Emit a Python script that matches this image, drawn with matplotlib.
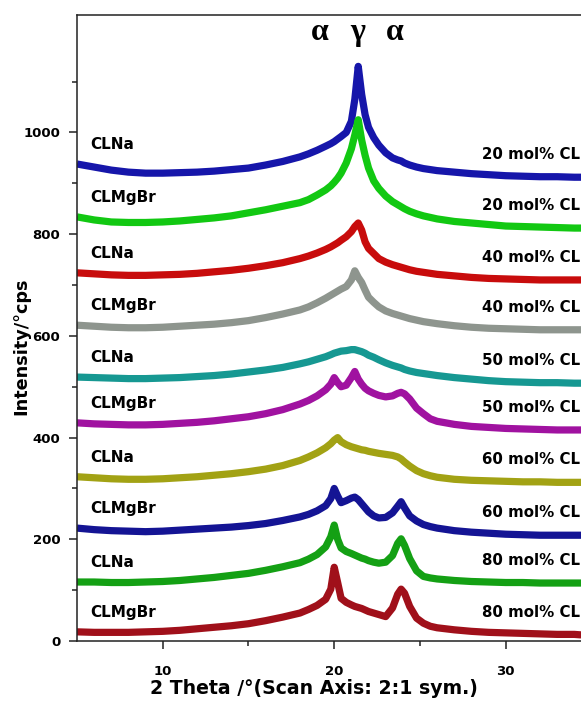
import matplotlib
matplotlib.use("Agg")
import matplotlib.pyplot as plt

# ---------------- data ----------------
two_theta = [5, 6, 7, 8, 9, 10, 11, 12, 13, 14, 15, 16, 17, 18,
             18.5, 19, 19.5, 19.8, 20.0, 20.2, 20.4, 20.7,
             21.0, 21.2, 21.4, 21.6, 21.8, 22.0, 22.3, 22.6,
             23.0, 23.4, 23.7, 23.9, 24.1, 24.4, 24.8, 25.2, 25.6,
             26, 27, 28, 29, 30, 31, 32, 33, 34, 34.4]

clna_20 = [938, 932, 926, 922, 920, 920, 921, 922, 924, 927, 930, 936, 943, 952,
           958, 965, 973, 978, 982, 987, 992, 1000,
           1022, 1065, 1130, 1075, 1035, 1010, 990, 975,
           960, 950, 946, 944, 940, 936, 932, 929, 927,
           925, 922, 919, 917, 915, 914, 913, 913, 912, 912]
clmgbr_20 = [834, 828, 824, 823, 823, 824, 826, 829, 832, 836, 842, 848, 855, 862,
             868, 877, 887, 895, 902, 910, 920, 940,
             968, 995, 1025, 985, 955, 930, 905, 890,
             875, 864, 858, 854, 850, 845, 840, 836, 833,
             830, 825, 822, 819, 816, 815, 814, 813, 812, 812]
clna_40 = [724, 722, 720, 719, 719, 720, 721, 723, 726, 729, 733, 738, 744, 752,
           757, 763, 770, 775, 779, 783, 788, 795,
           805, 815, 822, 808, 785, 772, 762, 752,
           745, 740, 737, 735, 733, 730, 727, 725, 723,
           721, 718, 715, 713, 712, 711, 710, 710, 710, 710]
clmgbr_40 = [621, 619, 617, 616, 616, 617, 619, 621, 623, 626, 630, 636, 643, 651,
             657, 665, 674, 680, 684, 688, 692, 697,
             710, 728, 715, 705, 690, 676, 666, 657,
             649, 644, 641, 639, 637, 634, 631, 628, 626,
             624, 620, 617, 615, 614, 613, 612, 612, 612, 612]
clna_50 = [519, 518, 517, 516, 516, 517, 518, 520, 522, 525, 529, 533, 538, 545,
           549, 554, 559, 563, 566, 568, 570, 571,
           573, 573, 571, 569, 566, 562, 558, 553,
           547, 542, 539, 537, 534, 531, 528, 526, 524,
           522, 518, 515, 512, 510, 509, 508, 508, 507, 507]
clmgbr_50 = [429, 427, 426, 425, 425, 426, 428, 430, 433, 437, 441, 447, 455, 466,
             473, 482, 494, 505, 518, 508, 500, 503,
             518, 530, 515, 505, 497, 492, 487, 483,
             480, 482, 487, 489, 486, 476, 458, 447, 437,
             432, 426, 422, 420, 418, 417, 416, 415, 415, 415]
clna_60 = [323, 321, 319, 318, 318, 319, 321, 323, 326, 329, 333, 338, 345, 355,
           362, 370, 380, 388, 395, 400, 392, 386,
           382, 380, 378, 376, 375, 373, 371, 369,
           367, 365, 362, 358, 352, 344, 335, 329, 325,
           322, 318, 316, 315, 314, 313, 313, 312, 312, 312]
clmgbr_60 = [222, 219, 217, 216, 215, 216, 218, 220, 222, 224, 227, 231, 237, 244,
             249, 256, 266, 280, 300, 285, 272, 276,
             281, 283, 278, 270, 262, 254, 246, 242,
             243, 252, 265, 274, 262, 246, 236, 229, 225,
             222, 217, 214, 212, 210, 209, 208, 208, 208, 208]
clna_80 = [116, 116, 115, 115, 116, 117, 119, 122, 125, 129, 133, 139, 146, 154,
           161, 170, 185, 205, 228, 200, 183, 176,
           172, 169, 166, 163, 161, 158, 155, 153,
           155, 168, 192, 201, 188, 162, 138, 127, 124,
           122, 119, 117, 116, 115, 115, 114, 114, 114, 114]
clmgbr_80 = [18, 17, 17, 17, 18, 19, 21, 24, 27, 30, 34, 40, 47, 55,
             62, 70, 82, 102, 145, 115, 84, 76,
             71, 68, 66, 64, 61, 58, 55, 52,
             48, 65, 92, 102, 94, 68, 45, 35, 29,
             26, 22, 19, 17, 16, 15, 14, 13, 13, 12]

series = [clna_20, clmgbr_20, clna_40, clmgbr_40, clna_50,
          clmgbr_50, clna_60, clmgbr_60, clna_80, clmgbr_80]
sample_names = ["CLNa", "CLMgBr", "CLNa", "CLMgBr", "CLNa",
                "CLMgBr", "CLNa", "CLMgBr", "CLNa", "CLMgBr"]
compositions = ["20 mol% CL", "20 mol% CL", "40 mol% CL", "40 mol% CL", "50 mol% CL",
                "50 mol% CL", "60 mol% CL", "60 mol% CL", "80 mol% CL", "80 mol% CL"]
colors = ["#1616aa", "#12c812", "#c80c0c", "#8e958e", "#169892",
          "#a012a0", "#a2a214", "#141494", "#14a014", "#a0101a"]

phase_labels = ["\u03b1", "\u03b3", "\u03b1"]
phase_pos = [19.17, 21.38, 23.54]

y_major = [0, 200, 400, 600, 800, 1000]
y_minor = [100, 300, 500, 700, 900, 1100]
x_major = [10, 20, 30]
x_minor = [15, 25]

# ---------------- figure ----------------
W, H = 581, 704
fig = plt.figure(figsize=(W / 100, H / 100), dpi=100)
ax = fig.add_axes([77 / W, 63 / H, 504 / W, 626 / H])

for ys, col in zip(series, colors):
    ax.plot(two_theta, ys, color=col, lw=5.2, solid_capstyle="butt")

ax.set_xlim(5, 34.39)
ax.set_ylim(0, 1231)

bold = dict(family="DejaVu Sans", weight="bold")

for ys, name, comp in zip(series, sample_names, compositions):
    ax.text(5.75, ys[0] + 38, name, ha="left", va="center", fontsize=11, **bold)
    ax.text(28.6, ys[-1] + 44, comp, ha="left", va="center", fontsize=10.8, **bold)

for lab, xp in zip(phase_labels, phase_pos):
    ax.text(xp, 1196, lab, ha="center", va="center", fontsize=23,
            family="Liberation Serif", weight="bold")

# axes styling
ax.spines["right"].set_visible(False)
for s in ["left", "bottom", "top"]:
    ax.spines[s].set_linewidth(1.1)
    ax.spines[s].set_color("#222222")

ax.set_yticks(y_major)
ax.set_yticks(y_minor, minor=True)
ax.set_xticks(x_major)
ax.set_xticks(x_minor, minor=True)
ax.tick_params(axis="both", which="major", length=6, width=1.1, color="#222222")
ax.tick_params(axis="both", which="minor", length=3.5, width=1.1, color="#222222")
ax.tick_params(axis="y", which="major", pad=6)
ax.tick_params(axis="x", which="major", pad=11)
for lab in ax.get_xticklabels() + ax.get_yticklabels():
    lab.set_fontfamily("DejaVu Sans")
    lab.set_fontweight("bold")
    lab.set_fontsize(9.5)

fig.text(314 / W, 1 - 689 / H, "2 Theta /\u00b0(Scan Axis: 2:1 sym.)",
         ha="center", va="center", fontsize=13.6, **bold)
fig.text(21 / W, 1 - 346 / H, "Intensity/\u00b0cps", rotation=90,
         ha="center", va="center", fontsize=12.7, **bold)

fig.savefig("out.png", dpi=100)
